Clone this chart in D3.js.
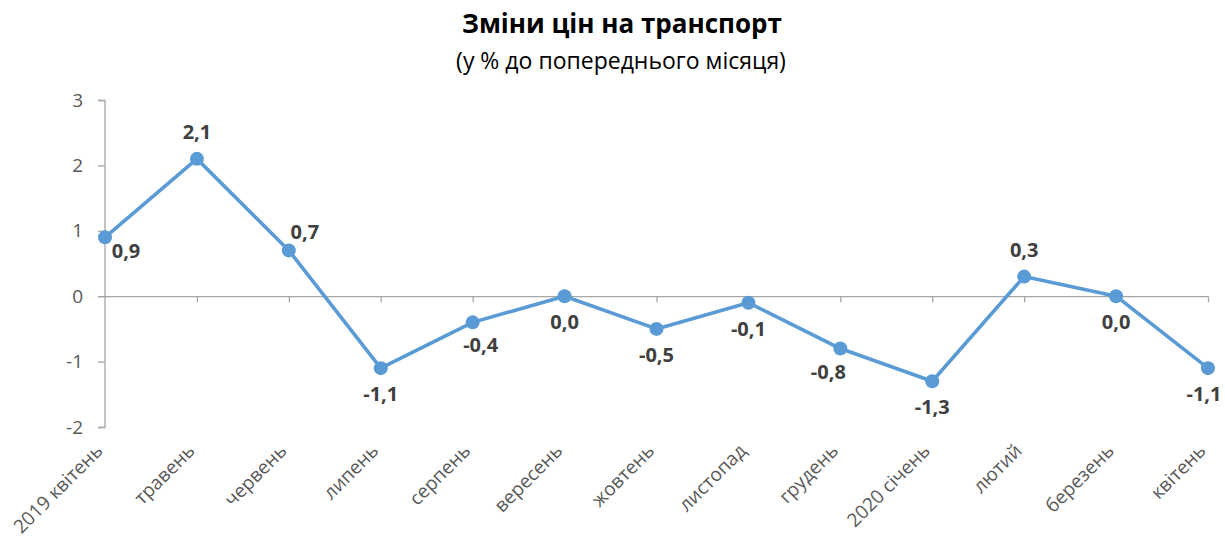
<!DOCTYPE html>
<html><head><meta charset="utf-8">
<script src="https://cdn.jsdelivr.net/npm/d3@7"></script>
<style>body{margin:0;background:#fff;} svg{display:block;font-family:"Open Sans",sans-serif;}</style>
</head><body>
<svg id="c" width="1225" height="538"></svg>
<script>
const categories = ["2019 квітень","травень","червень","липень","серпень","вересень","жовтень","листопад","грудень","2020 січень","лютий","березень","квітень"];
const values = [0.9, 2.1, 0.7, -1.1, -0.4, 0.0, -0.5, -0.1, -0.8, -1.3, 0.3, 0.0, -1.1];
const labelPlacement = ["right","above","aboveRight","below","belowRight","below","below","below","belowLeft","below","above","below","belowEnd"];
const yTicks = [-2,-1,0,1,2,3];

const svg = d3.select("#c");
const x = d3.scalePoint().domain(categories).range([105,1208]);
const y = d3.scaleLinear().domain([-2,3]).range([427,100]);
const axisColor = "#A6A6A6";

svg.append("text").attr("x",622).attr("y",33).attr("text-anchor","middle")
  .attr("font-weight","bold").attr("font-size",26).attr("fill","#000").text("Зміни цін на транспорт");
svg.append("text").attr("x",621).attr("y",69).attr("text-anchor","middle")
  .attr("font-size",23).attr("fill","#000").text("(у % до попереднього місяця)");

// y axis
const ya = svg.append("g").attr("transform","translate(105,0)")
  .call(d3.axisLeft(y).tickValues(yTicks).tickSize(7).tickPadding(15).tickFormat(d3.format("d")));
ya.select(".domain").attr("stroke",axisColor).attr("stroke-width",1.3).attr("d","M-7,100.5H0V427.5H-7");
ya.selectAll(".tick line").attr("stroke",axisColor).attr("stroke-width",1.3);
ya.selectAll(".tick text").attr("fill","#595959").attr("font-size",19).attr("font-family","Open Sans").text(d=>d<0?"-"+Math.abs(d):d);

// x axis at zero
const xa = svg.append("g").attr("transform",`translate(0,${y(0)})`)
  .call(d3.axisBottom(x).tickSize(6).tickFormat(""));
xa.select(".domain").attr("stroke",axisColor).attr("stroke-width",1.3).attr("d","M98,0.5H1208");
xa.selectAll(".tick line").attr("stroke",axisColor).attr("stroke-width",1.3);
xa.selectAll(".tick").filter((d,i)=>i===0).remove();

// category labels
svg.append("g").selectAll("text").data(categories).join("text")
  .attr("transform",d=>`translate(${x(d)-1},452) rotate(-45)`)
  .attr("text-anchor","end").attr("font-size",19).attr("fill","#595959").text(d=>d);

// line
const line = d3.line().x((d,i)=>x(categories[i])).y(d=>y(d));
svg.append("path").datum(values).attr("d",line).attr("fill","none")
  .attr("stroke","#5B9BD5").attr("stroke-width",3.6).attr("stroke-linejoin","round");
svg.append("g").selectAll("circle").data(values).join("circle")
  .attr("cx",(d,i)=>x(categories[i])).attr("cy",d=>y(d)).attr("r",7).attr("fill","#5B9BD5");

// labels
const off = {right:[21,21], above:[0,-20], aboveRight:[16,-11], below:[0,33], belowRight:[8,30], belowLeft:[-12,30], belowEnd:[-4,33]};
svg.append("g").selectAll("text").data(values).join("text")
  .attr("x",(d,i)=>x(categories[i])+off[labelPlacement[i]][0])
  .attr("y",(d,i)=>y(d)+off[labelPlacement[i]][1])
  .attr("text-anchor","middle").attr("font-weight","bold").attr("font-size",20).attr("fill","#404040")
  .text(d=>d3.format(".1f")(d).replace("−","-").replace(".",","));
</script>
</body></html>
